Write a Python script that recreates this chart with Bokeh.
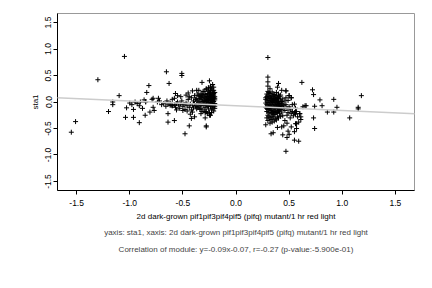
from bokeh.plotting import figure
from bokeh.models import FixedTicker, NumeralTickFormatter, Slope, Title
from bokeh.embed import file_html
from bokeh.resources import INLINE

# ---- data ----
x_ticks = [-1.5, -1.0, -0.5, 0.0, 0.5, 1.0, 1.5]
y_ticks = [-1.5, -1.0, -0.5, 0.0, 0.5, 1.0, 1.5]

fit_slope = -0.09
fit_intercept = -0.07

left_outliers_x = [-1.55, -1.51, -1.30, -1.05, -1.20, -1.16, -1.16, -1.10, -1.04, -1.03, -0.965, -0.91, -1.00,
                   -0.98, -0.95, -0.93, -0.90, -0.965, -0.91, -0.88, -0.855, -0.84, -0.82, -0.865, -0.85, -0.85,
                   -0.81, -0.79, -0.78, -0.78, -0.77, -0.74, -0.73, -0.72, -0.655, -0.63, -0.64, -0.62, -0.61,
                   -0.60, -0.64, -0.58, -0.58, -0.57, -0.55, -0.51, -0.51, -0.48, -0.44, -0.42, -0.43, -0.39,
                   -0.45, -0.41, -0.37, -0.35, -0.32, -0.25, -0.29, -0.28, -0.28, -0.33, -0.24, -0.32, -0.28, -0.24]
left_outliers_y = [-0.57, -0.37, 0.42, 0.86, -0.18, 0.00, -0.05, 0.12, -0.29, -0.11, -0.29, -0.39, -0.02,
                   -0.05, 0.00, -0.03, 0.00, -0.14, -0.07, -0.12, -0.25, 0.18, 0.31, 0.04, 0.00, 0.01,
                   -0.19, 0.05, 0.07, -0.10, -0.16, 0.00, 0.07, 0.02, 0.57, 0.35, -0.38, -0.06, -0.06,
                   -0.07, -0.22, -0.35, 0.07, 0.16, 0.12, 0.54, 0.50, -0.60, -0.45, -0.31, -0.23, -0.28,
                   0.17, 0.21, 0.22, 0.22, 0.37, 0.40, -0.30, -0.45, -0.47, -0.22, -0.25, 0.15, 0.25, 0.27]

left_band_x = [-0.70, -0.68, -0.66, -0.64, -0.62, -0.60, -0.58, -0.57, -0.56, -0.55, -0.54, -0.53, -0.52, -0.51,
               -0.50, -0.49, -0.48, -0.47, -0.46, -0.45, -0.44, -0.43, -0.42, -0.42, -0.41, -0.40, -0.40, -0.39,
               -0.39, -0.38, -0.38, -0.37, -0.56, -0.52, -0.47, -0.44, -0.60, -0.65, -0.50, -0.46, -0.41]
left_band_y = [-0.05, -0.03, -0.08, -0.04, -0.02, -0.07, -0.05, -0.10, -0.03, 0.00, -0.06, -0.12, -0.04, 0.02,
               -0.08, -0.05, -0.14, -0.02, -0.07, 0.05, -0.10, -0.04, 0.08, -0.15, -0.06, 0.02, -0.11, 0.12,
               -0.03, -0.08, 0.05, -0.13, -0.15, 0.10, 0.13, 0.10, 0.05, 0.02, -0.16, -0.17, -0.19]

left_dense_x = [-0.36, -0.35, -0.34, -0.34, -0.33, -0.33, -0.32, -0.32, -0.31, -0.31, -0.30, -0.30, -0.30, -0.29,
                -0.29, -0.29, -0.28, -0.28, -0.28, -0.27, -0.27, -0.27, -0.26, -0.26, -0.26, -0.26, -0.25, -0.25,
                -0.25, -0.25, -0.24, -0.24, -0.24, -0.24, -0.23, -0.23, -0.23, -0.23, -0.23, -0.22, -0.22, -0.22,
                -0.22, -0.22, -0.21, -0.21, -0.21, -0.21, -0.21, -0.21, -0.20, -0.20, -0.20, -0.20, -0.20, -0.35,
                -0.33, -0.31, -0.28, -0.26, -0.24, -0.22, -0.21, -0.27, -0.25, -0.23, -0.29, -0.32, -0.34, -0.36,
                -0.37, -0.37, -0.36, -0.30, -0.28, -0.26, -0.24, -0.22, -0.20, -0.21, -0.23, -0.25, -0.27, -0.29,
                -0.31, -0.33, -0.35, -0.34, -0.32, -0.30, -0.28, -0.26, -0.24, -0.22, -0.20]
left_dense_y = [0.02, -0.08, 0.10, -0.03, 0.05, -0.12, 0.00, 0.08, -0.06, 0.13, 0.03, -0.15, 0.20, -0.02,
                0.07, -0.10, 0.11, 0.01, -0.18, 0.04, -0.07, 0.16, -0.01, 0.09, -0.13, 0.22, 0.05, -0.04,
                0.14, -0.20, 0.00, 0.10, -0.09, 0.18, 0.03, -0.05, 0.12, -0.15, 0.25, 0.06, -0.02, 0.15,
                -0.11, 0.21, 0.01, 0.08, -0.07, 0.13, -0.17, 0.28, 0.04, -0.03, 0.10, 0.18, -0.12, 0.12,
                0.15, 0.20, 0.24, 0.27, 0.30, 0.33, 0.22, -0.22, -0.25, -0.20, -0.20, -0.18, -0.14, -0.10,
                0.06, -0.04, 0.15, 0.09, -0.05, 0.03, 0.06, -0.06, 0.07, 0.16, 0.08, 0.19, 0.10, 0.14,
                0.01, -0.06, 0.00, 0.07, 0.11, -0.04, 0.05, -0.08, 0.13, 0.02, -0.08]

right_dense_x = [0.28, 0.28, 0.28, 0.29, 0.29, 0.29, 0.29, 0.30, 0.30, 0.30, 0.30, 0.30, 0.31, 0.31, 0.31, 0.31,
                 0.31, 0.32, 0.32, 0.32, 0.32, 0.32, 0.33, 0.33, 0.33, 0.33, 0.33, 0.34, 0.34, 0.34, 0.34, 0.34,
                 0.35, 0.35, 0.35, 0.35, 0.35, 0.36, 0.36, 0.36, 0.36, 0.36, 0.37, 0.37, 0.37, 0.37, 0.37, 0.38,
                 0.38, 0.38, 0.38, 0.38, 0.39, 0.39, 0.39, 0.39, 0.40, 0.40, 0.40, 0.40, 0.41, 0.41, 0.41, 0.41,
                 0.42, 0.42, 0.42, 0.43, 0.43, 0.43, 0.44, 0.44, 0.44, 0.45, 0.45, 0.46, 0.46, 0.29, 0.30, 0.31,
                 0.33, 0.35, 0.36, 0.34, 0.32, 0.38, 0.40, 0.42, 0.29, 0.30, 0.32, 0.34, 0.36, 0.38, 0.40, 0.42,
                 0.28, 0.30, 0.31, 0.33, 0.35, 0.37, 0.39, 0.41, 0.43, 0.29, 0.31, 0.33, 0.35, 0.37, 0.39, 0.34,
                 0.36]
right_dense_y = [-0.02, 0.05, -0.10, 0.10, -0.05, -0.18, 0.02, -0.08, 0.13, -0.01, -0.25, 0.06, -0.12, 0.03,
                 -0.04, 0.18, -0.20, 0.08, -0.07, 0.00, -0.15, -0.30, 0.04, -0.10, 0.12, -0.02, -0.22, -0.05,
                 0.07, -0.13, 0.01, -0.27, 0.10, -0.08, -0.01, -0.18, 0.15, 0.03, -0.11, -0.04, -0.24, 0.06,
                 -0.07, 0.09, -0.15, 0.00, -0.32, 0.04, -0.09, -0.02, -0.20, 0.12, -0.05, 0.02, -0.13, -0.28,
                 0.07, -0.08, -0.17, 0.00, -0.03, 0.10, -0.11, -0.22, 0.04, -0.06, -0.14, 0.01, -0.09, -0.19,
                 0.06, -0.04, -0.26, -0.07, -0.12, 0.02, -0.16, -0.30, -0.35, -0.28, -0.33, -0.30, -0.36, -0.38,
                 -0.40, -0.34, -0.30, -0.27, 0.15, 0.20, 0.16, 0.19, 0.14, 0.18, 0.15, 0.13, 0.08, -0.14,
                 0.10, -0.16, 0.04, -0.21, 0.08, -0.15, -0.02, -0.12, -0.09, 0.07, -0.23, 0.05, -0.19, -0.20,
                 -0.17]

right_mid_x = [0.47, 0.47, 0.48, 0.48, 0.49, 0.49, 0.50, 0.50, 0.51, 0.51, 0.52, 0.52, 0.53, 0.53, 0.54, 0.55,
               0.55, 0.56, 0.56, 0.57, 0.58, 0.60, 0.47, 0.43, 0.46, 0.48, 0.45]
right_mid_y = [-0.05, 0.08, -0.12, -0.25, 0.03, -0.20, -0.09, 0.12, -0.30, -0.15, 0.08, -0.22, -0.18, -0.05,
               -0.26, -0.04, -0.20, -0.12, -0.23, -0.18, -0.28, -0.22, 0.21, 0.22, -0.35, -0.40, -0.45]

right_outliers_x = [0.30, 0.30, 0.30, 0.30, 0.40, 0.39, 0.32, 0.62, 0.72, 0.73, 0.79, 0.81, 0.74, 0.73, 0.74,
                    0.86, 0.92, 0.92, 0.95, 1.07, 1.15, 1.15, 1.18, 0.63, 0.65, 0.66, 0.61, 0.61, 0.59, 0.56,
                    0.57, 0.57, 0.55, 0.52, 0.49, 0.44, 0.48, 0.50, 0.33, 0.35, 0.39, 0.43, 0.28, 0.55, 0.59,
                    0.47, 0.50, 0.47, 0.52, 0.56, 0.60]
right_outliers_y = [0.84, 0.47, 0.38, 0.30, 0.35, 0.28, 0.25, 0.37, 0.23, 0.14, 0.04, -0.07, -0.08, -0.30, -0.50,
                    -0.19, 0.05, -0.19, -0.10, -0.30, -0.13, -0.10, 0.12, -0.09, -0.07, -0.07, -0.28, -0.33, -0.38,
                    -0.41, -0.41, -0.50, -0.56, -0.47, -0.55, -0.62, -0.67, -0.61, -0.60, -0.58, -0.48, -0.47,
                    -0.43, -0.72, -0.74, -0.93, 0.12, 0.21, 0.08, -0.12, -0.22]

x_title = "2d dark-grown pif1pif3pif4pif5 (pifq) mutant/1 hr red light"
y_title = "sta1"
caption1 = "yaxis: sta1, xaxis: 2d dark-grown pif1pif3pif4pif5 (pifq) mutant/1 hr red light"
caption2 = "Correlation of module: y=-0.09x-0.07, r=-0.27 (p-value:-5.900e-01)"

FONT = "Liberation Sans"

p = figure(width=432, height=288, x_range=(-1.68, 1.68), y_range=(-1.67, 1.67),
           output_backend="svg", toolbar_location=None,
           min_border_left=57, min_border_right=18, min_border_top=13, min_border_bottom=98)
p.grid.visible = False
p.outline_line_color = "#999999"
p.outline_line_width = 1
p.background_fill_color = "white"
p.border_fill_color = "white"

for ax in (p.xaxis[0], p.yaxis[0]):
    ax.ticker = FixedTicker(ticks=x_ticks if ax is p.xaxis[0] else y_ticks)
    ax.formatter = NumeralTickFormatter(format="0.0")
    ax.axis_line_color = "black"
    ax.major_tick_line_color = "black"
    ax.major_tick_out = 4
    ax.major_tick_in = 0
    ax.minor_tick_line_color = None
    ax.major_label_text_font = FONT
    ax.major_label_text_font_size = "8.5px"
    ax.major_label_text_color = "black"
    ax.axis_label_text_font = FONT
    ax.axis_label_text_font_size = "8px"
    ax.axis_label_text_font_style = "normal"
    ax.axis_label_text_color = "black"

p.xaxis.axis_label = x_title
p.xaxis.major_label_standoff = 5
p.xaxis.axis_label_standoff = 3
p.yaxis.axis_label = y_title
p.yaxis.major_label_orientation = "vertical"
p.yaxis.major_label_standoff = 2
p.yaxis.axis_label_standoff = 3

slope = Slope(gradient=fit_slope, y_intercept=fit_intercept, line_color="#cccccc", line_width=1.5)
p.add_layout(slope)

groups = [(left_outliers_x, left_outliers_y), (left_band_x, left_band_y), (left_dense_x, left_dense_y),
          (right_dense_x, right_dense_y), (right_mid_x, right_mid_y), (right_outliers_x, right_outliers_y)]
for gx, gy in groups:
    p.scatter(gx, gy, marker="cross", size=5, line_color="black", line_width=1)

t1 = Title(text=caption1, align="center", text_font=FONT, text_font_size="8px",
           text_font_style="normal", standoff=5, offset=0)
t2 = Title(text=caption2, align="center", text_font=FONT, text_font_size="8px",
           text_font_style="normal", standoff=6)
p.add_layout(t1, "below")
p.add_layout(t2, "below")

open("out.html", "w").write(file_html(p, INLINE))
